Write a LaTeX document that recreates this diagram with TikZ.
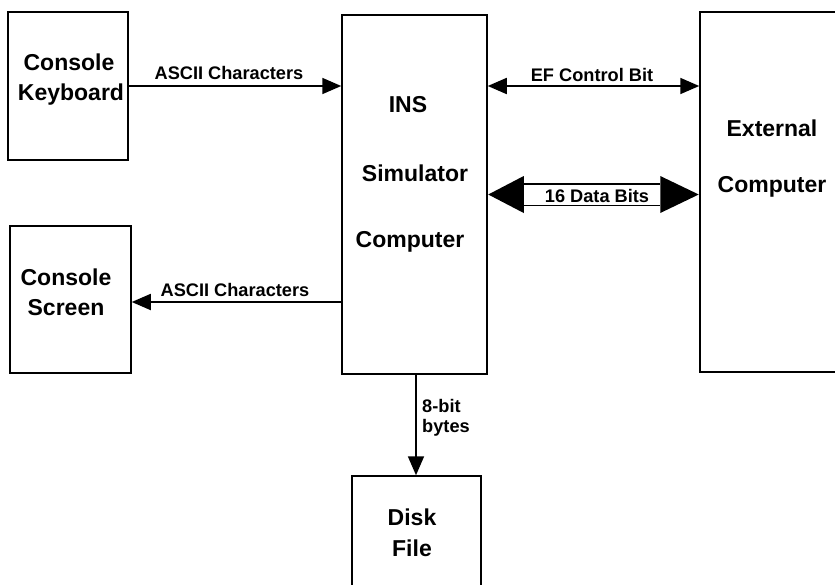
\documentclass[tikz,border=0pt]{standalone}
\usepackage{fontspec}
\setmainfont{Liberation Sans}
\usetikzlibrary{arrows.meta}
\begin{document}
\begin{tikzpicture}[x=1pt,y=-1pt,
  box/.style={draw,line width=1.5pt,rectangle,inner sep=0pt},
  boxtext/.style={font=\fontsize{23}{26}\selectfont\bfseries,inner sep=0pt,anchor=center},
  lbl/.style={font=\fontsize{18.2}{20}\selectfont\bfseries,inner sep=0pt,anchor=center},
  conn/.style={line width=1.8pt},
  tip/.style={-{Triangle[length=19pt,width=16pt]}},
  both/.style={{Triangle[length=19pt,width=16pt]}-{Triangle[length=19pt,width=16pt]}}
]
\useasboundingbox (0,0) rectangle (835,584);
\clip (0,0) rectangle (835,584);
\fill[white] (0,0) rectangle (835,584);
% boxes
\node[box,minimum width=120pt,minimum height=148pt] (kb) at (68,86) {};
\node[box,minimum width=121pt,minimum height=147pt] (scr) at (70.5,299.5) {};
\node[box,minimum width=145pt,minimum height=359pt] (ins) at (414.5,194.5) {};
\node[box,minimum width=200pt,minimum height=360pt] (ext) at (800,192) {};
\node[box,minimum width=129pt,minimum height=140pt] (disk) at (416.5,546) {};
% box texts
\node[boxtext] (kb1) at (69,62) {Console};
\node[boxtext] (kb2) at (71,95) {Keyboard};
\node[boxtext] (sc1) at (66,277) {Console};
\node[boxtext] (sc2) at (66,308) {Screen};
\node[boxtext] (in1) at (408,105) {INS};
\node[boxtext] (in2) at (415,173) {Simulator};
\node[boxtext] (in3) at (410,242) {Computer};
\node[boxtext] (ex1) at (772,128) {External};
\node[boxtext] (ex2) at (772,187) {Computer};
\node[boxtext] (dk1) at (412,517) {Disk};
\node[boxtext] (dk2) at (412,548) {File};
% connectors
\draw[conn,tip] (kb.east) -- (kb.east -| ins.west);
\node[lbl] (l1) at (229,73) {ASCII Characters};
\coordinate (ef) at (ins.east |- kb.east);
\draw[conn,both] (ef) -- (ef -| ext.west);
\node[lbl] (l2) at (592,75) {EF Control Bit};
\coordinate (sa) at (ins.west |- 0,302);
\draw[conn,tip] (sa) -- (sa -| scr.east);
\node[lbl] (l3) at (235,290) {ASCII Characters};
\coordinate (da) at (416,374);
\draw[conn,tip] (ins.south -| da) -- (da |- disk.north);
\node[lbl,anchor=west,align=left,font=\fontsize{18.2}{20}\selectfont\bfseries] (l4) at (422,418) {8-bit\\bytes};
% wide data arrow
\coordinate (wl) at (ins.east);
\coordinate (wr) at (ins.east -| ext.west);
\fill ([xshift=0.5pt]wl) -- ([shift={(36,-18.5)}]wl) -- ([shift={(36,18.5)}]wl) -- cycle;
\fill ([xshift=-0.5pt]wr) -- ([shift={(-39,-18.5)}]wr) -- ([shift={(-39,18.5)}]wr) -- cycle;
\draw[conn] ([shift={(36,-10.5)}]wl) -- ([shift={(-39,-10.5)}]wr);
\draw[conn] ([shift={(36,11)}]wl) -- ([shift={(-39,11)}]wr);
\node[lbl] (l5) at (597,196) {16 Data Bits};
\end{tikzpicture}
\end{document}
